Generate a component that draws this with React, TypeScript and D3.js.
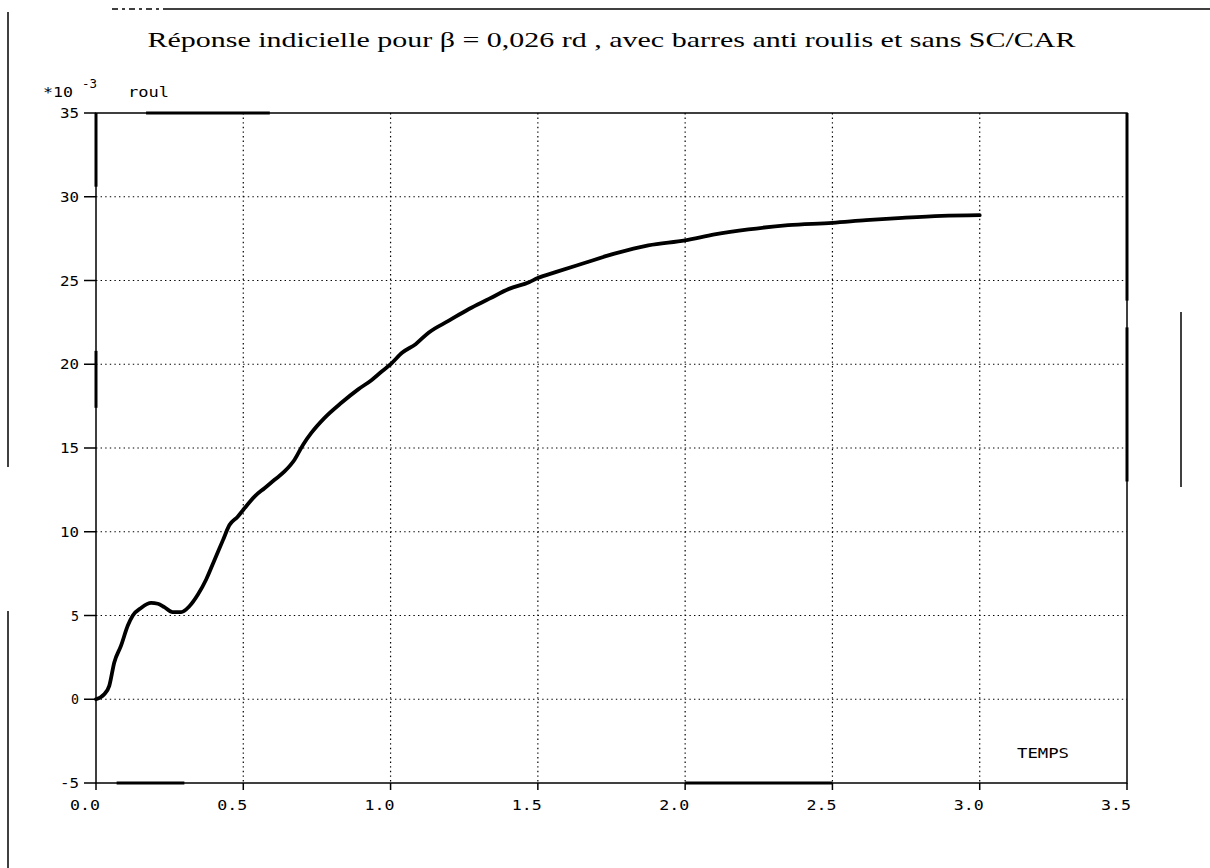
import React from 'react';
import * as d3 from 'd3';

// step response, roll angle (x 10^-3 rad) vs time (s)
const TIME = [0, 0.028, 0.045, 0.062, 0.085, 0.108, 0.125, 0.153, 0.187, 0.21, 0.232, 0.26, 0.289, 0.317, 0.346, 0.374, 0.402, 0.431, 0.453, 0.481, 0.504, 0.538, 0.572, 0.606, 0.64, 0.674, 0.703, 0.731, 0.776, 0.833, 0.89, 0.935, 0.972, 1.0, 1.04, 1.085, 1.13, 1.198, 1.266, 1.334, 1.402, 1.47, 1.5, 1.56, 1.65, 1.76, 1.875, 2.0, 2.1, 2.215, 2.35, 2.5, 2.614, 2.737, 2.871, 3.0];
const ROUL = [0, 0.3, 0.8, 2.2, 3.2, 4.4, 5.0, 5.45, 5.75, 5.7, 5.5, 5.2, 5.2, 5.55, 6.25, 7.15, 8.3, 9.5, 10.4, 10.9, 11.4, 12.1, 12.6, 13.1, 13.6, 14.3, 15.2, 15.9, 16.8, 17.7, 18.5, 19.05, 19.6, 20.0, 20.7, 21.2, 21.9, 22.6, 23.3, 23.9, 24.5, 24.9, 25.15, 25.5, 26.0, 26.6, 27.1, 27.4, 27.75, 28.05, 28.3, 28.44, 28.6, 28.74, 28.86, 28.9];

const X_TICKS = [0, 0.5, 1, 1.5, 2, 2.5, 3, 3.5];
const X_LABELS = ['0.0', '0.5', '1.0', '1.5', '2.0', '2.5', '3.0', '3.5'];
const Y_TICKS = [-5, 0, 5, 10, 15, 20, 25, 30, 35];
const Y_LABELS = ['-5', '0', '5', '10', '15', '20', '25', '30', '35'];

const TITLE = 'Réponse indicielle pour β = 0,026 rd , avec barres anti roulis et sans SC/CAR';

// heavier stretches on the frame (in data units), as printed
const LEFT_HEAVY = [[35, 30.6], [20.8, 17.4]];
const RIGHT_HEAVY = [[35, 23.8], [22.2, 13]];
const TOP_HEAVY = [[0.17, 0.59]];
const BOTTOM_HEAVY = [[0.07, 0.3], [2.0, 2.5]];

const mono = '"DejaVu Sans Mono", "Liberation Mono", monospace';
const serif = '"Liberation Serif", "DejaVu Serif", serif';

// the printout is stretched sideways: fixed advance per character
const Mono = ({ x, y, anchor = 'start', children, size = 14, adv = 11 }: any) => {
  const s = String(children);
  const len = s.length * adv - 3;
  const left = anchor === 'end' ? x - len : anchor === 'middle' ? x - len / 2 : x;
  return (
    <text x={left} y={y} fontFamily={mono} fontSize={size} textLength={len}
      lengthAdjust="spacingAndGlyphs" fill="#000">{s}</text>
  );
};

export default function App() {
  const width = 1210;
  const height = 868;
  const x = d3.scaleLinear().domain([0, 3.5]).range([96, 1127]);
  const y = d3.scaleLinear().domain([-5, 35]).range([783, 113]);

  const pts = TIME.map((t, i) => [t, ROUL[i]] as [number, number]);
  const line = d3.line<[number, number]>()
    .x(d => x(d[0]))
    .y(d => y(d[1]))
    .curve(d3.curveMonotoneX);

  const x0 = x(0), x1 = x(3.5), yTop = y(35), yBot = y(-5);

  return (
    <svg width={width} height={height} style={{ position: 'absolute', left: 0, top: 0, background: '#fff' }}>
      {/* page rules */}
      <line x1={112} x2={166} y1={9} y2={9} stroke="#000" strokeWidth={1.5} strokeDasharray="6 4 3 4" />
      <line x1={166} x2={1210} y1={9} y2={9} stroke="#000" strokeWidth={1.5} />
      <line x1={8} x2={8} y1={12} y2={467} stroke="#000" strokeWidth={1.5} />
      <line x1={8} x2={8} y1={611} y2={868} stroke="#000" strokeWidth={1.5} />
      <line x1={1181} x2={1181} y1={312} y2={487} stroke="#000" strokeWidth={1.5} />

      {/* title */}
      <text x={(x0 + x1) / 2 - 464} y={47} fontFamily={serif} fontSize={22}
        textLength={928} lengthAdjust="spacingAndGlyphs" fill="#000">{TITLE}</text>

      {/* grid */}
      {Y_TICKS.filter(v => v > -5 && v < 35).map(v => (
        <line key={'gy' + v} x1={x0} x2={x1} y1={y(v)} y2={y(v)} stroke="#000" strokeWidth={1.2} strokeDasharray="1.4 3.2" />
      ))}
      {X_TICKS.filter(v => v > 0 && v < 3.5).map(v => (
        <line key={'gx' + v} x1={x(v)} x2={x(v)} y1={yTop} y2={yBot} stroke="#000" strokeWidth={1.2} strokeDasharray="1.4 3.2" />
      ))}

      {/* frame */}
      <rect x={x0} y={yTop} width={x1 - x0} height={yBot - yTop} fill="none" stroke="#000" strokeWidth={1.5} />
      {LEFT_HEAVY.map((r, i) => (
        <line key={'lh' + i} x1={x0} x2={x0} y1={y(r[0])} y2={y(r[1])} stroke="#000" strokeWidth={3} />
      ))}
      {RIGHT_HEAVY.map((r, i) => (
        <line key={'rh' + i} x1={x1} x2={x1} y1={y(r[0])} y2={y(r[1])} stroke="#000" strokeWidth={3} />
      ))}
      {TOP_HEAVY.map((r, i) => (
        <line key={'th' + i} x1={x(r[0])} x2={x(r[1])} y1={yTop} y2={yTop} stroke="#000" strokeWidth={3} />
      ))}
      {BOTTOM_HEAVY.map((r, i) => (
        <line key={'bh' + i} x1={x(r[0])} x2={x(r[1])} y1={yBot} y2={yBot} stroke="#000" strokeWidth={3} />
      ))}

      {/* y axis ticks + labels */}
      {Y_TICKS.map((v, i) => (
        <g key={'yt' + v}>
          <line x1={x0 - 12} x2={x0} y1={y(v)} y2={y(v)} stroke="#000" strokeWidth={1.5} />
          <Mono x={x0 - 17} y={y(v) + 5} anchor="end">{Y_LABELS[i]}</Mono>
        </g>
      ))}

      {/* x axis ticks + labels */}
      {X_TICKS.map((v, i) => (
        <g key={'xt' + v}>
          <line x1={x(v)} x2={x(v)} y1={yBot} y2={yBot + 7} stroke="#000" strokeWidth={1.5} />
          <Mono x={x(v) + 4} y={810} anchor="end">{X_LABELS[i]}</Mono>
        </g>
      ))}

      {/* unit and axis names */}
      <Mono x={43} y={97}>*10</Mono>
      <Mono x={82} y={88} size={13} adv={9}>-3</Mono>
      <Mono x={128} y={97}>roul</Mono>
      <Mono x={1017} y={758}>TEMPS</Mono>

      {/* response curve */}
      <path d={line(pts) || ''} fill="none" stroke="#000" strokeWidth={3.8} strokeLinejoin="round" strokeLinecap="round" />
    </svg>
  );
}
